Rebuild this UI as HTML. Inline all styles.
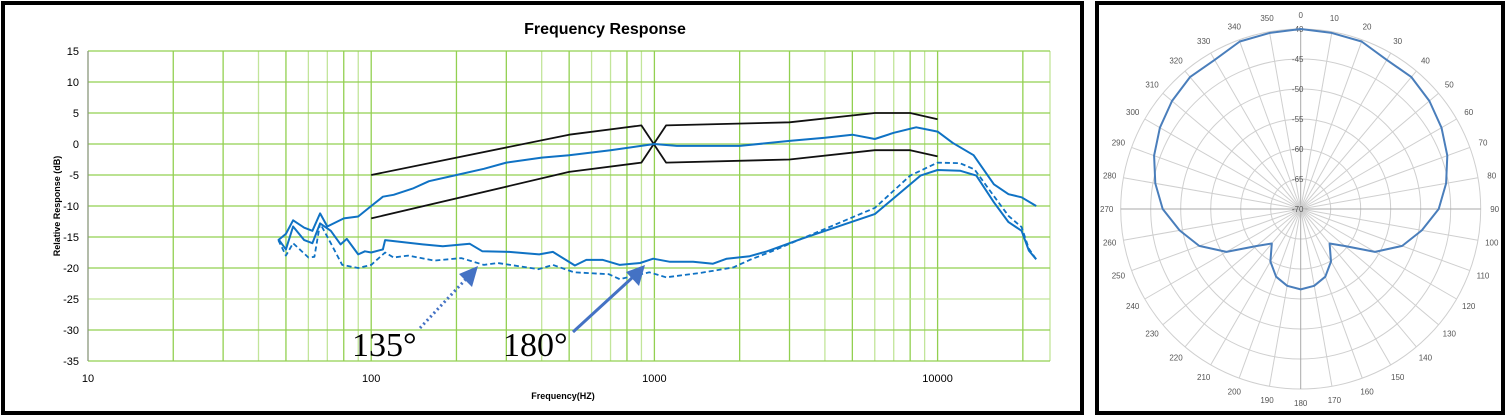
<!DOCTYPE html>
<html><head><meta charset="utf-8"><style>
html,body{margin:0;padding:0;background:#fff;}
svg{display:block;font-family:"Liberation Sans",sans-serif;}
</style></head><body>
<svg id="svg" width="1509" height="418" xmlns="http://www.w3.org/2000/svg">
<rect x="3" y="3" width="1079" height="410" fill="#fff" stroke="#000" stroke-width="4"/>
<rect x="1097" y="3" width="406" height="410" fill="#fff" stroke="#000" stroke-width="4"/>
<text x="605" y="34" text-anchor="middle" font-size="16" font-weight="bold">Frequency Response</text>
<g id="grid"></g>
<g id="ylabels"></g>
<g id="xlabels"></g>
<text transform="translate(60,206) rotate(-90)" text-anchor="middle" font-size="9" font-weight="bold">Relative  Response (dB)</text>
<text x="563" y="399" text-anchor="middle" font-size="9" font-weight="bold">Frequency(HZ)</text>
<g id="series"></g>
<g>
<line x1="420" y1="328" x2="466" y2="279" stroke="#4472c4" stroke-width="3" stroke-dasharray="2,3"/>
<polygon points="478,266 459,274 472,287" fill="#4472c4"/>
<text x="352" y="356" font-family="Liberation Serif,serif" font-size="34">135°</text>
</g>
<g>
<line x1="573" y1="332" x2="633" y2="277" stroke="#4472c4" stroke-width="3"/>
<polygon points="645,265 626,272 639,286" fill="#4472c4"/>
<text x="503" y="356" font-family="Liberation Serif,serif" font-size="34">180°</text>
</g>
<g id="polar"></g>
</svg>
<script>
// ---- Frequency response data ----
const yTicks=[15,10,5,0,-5,-10,-15,-20,-25,-30,-35];
const xTickLabels=[10,100,1000,10000];
const onAxisFreq=[47,50,53,58,62,66,70,80,90,100,110,120,140,160,200,250,300,400,500,700,1000,1200,2000,3000,4000,5000,6000,7000,8400,10000,11300,13400,15800,17800,19800,22300];
const onAxisDb=[-15.5,-14.5,-12.3,-13.5,-14,-11.2,-13.3,-12,-11.7,-10,-8.5,-8.2,-7.2,-6,-5,-4,-3,-2.2,-1.8,-1,0,-0.3,-0.3,0.5,1,1.5,0.8,1.8,2.7,2,0.2,-1.8,-6.5,-8.1,-8.6,-10];
const rearFreq=[47,50,53,58,62,66,72,78,82,90,95,100,110,112,152,179,223,247,307,392,438,524,575,658,755,890,990,1135,1370,1610,1800,2170,2500,3000,3300,6000,8700,10000,12000,13700,15800,17800,19800,21000,22300];
const rearDb=[-15.3,-17,-13.3,-15.5,-16,-12.8,-14,-16.2,-15.3,-17.8,-17.3,-17.5,-17,-15.5,-16.2,-16.5,-16.1,-17.3,-17.4,-17.8,-17.4,-19.6,-18.7,-18.7,-19.5,-19.2,-18.5,-19,-19,-19.3,-18.5,-18.1,-17.3,-16,-15.3,-11.3,-5.1,-4.2,-4.3,-5.1,-9.4,-12.6,-14,-17.2,-18.6];
const sideFreq=[47,50,53,60,63,66,72,79,90,100,112,120,135,167,208,250,280,390,438,520,690,755,960,1100,1450,1900,2170,2600,3300,6000,8000,10000,12000,13500,15800,17800,19800,21000,22300];
const sideDb=[-15.5,-18,-16,-18.3,-18.2,-12.8,-16,-19.5,-20,-19.5,-17.5,-18.3,-18,-18.8,-18.4,-19.5,-19.2,-20.2,-19.5,-20.7,-21,-21.8,-20.7,-21.5,-20.8,-19.9,-18.7,-17.3,-15.3,-10.3,-5.1,-3,-3.1,-4.1,-8.4,-11.6,-13.4,-16.9,-18.6];
const upperLimFreq=[100,500,900,1100,3000,6000,8000,10000];
const upperLimDb=[-5,1.5,3,-3,-2.5,-1,-1,-2];
const lowerLimFreq=[100,500,900,1100,3000,6000,8000,10000];
const lowerLimDb=[-12,-4.5,-3,3,3.5,5,5,4];
// ---- Polar data (dB every 10 degrees, 0..350) ----
const polarAngles=[0,10,20,30,40,50,60,70,80,90,100,110,120,130,140,150,160,170,180,190,200,210,220,230,240,250,260,270,280,290,300,310,320,330,340,350];
const polarDb=[-40,-40.2,-40.3,-41.3,-41.3,-42,-42.9,-44,-45.4,-47,-49.5,-52,-55.7,-60.4,-62.5,-59.9,-58,-57,-56.6,-57,-58,-59.9,-62.5,-60.4,-55.7,-52,-49.5,-47,-45.4,-44,-42.9,-42,-41.3,-41.3,-40.3,-40.2];
const polarRings=[-40,-45,-50,-55,-60,-65,-70];

const NS="http://www.w3.org/2000/svg";
const L=88,R=1050,T=51,B=361;
const xs=f=>L+(Math.log10(f)-1)*283.2;
const ys=v=>T+(15-v)*(B-T)/50;
function mk(tag,attrs,parent){const e=document.createElementNS(NS,tag);for(const k in attrs)e.setAttribute(k,attrs[k]);parent.appendChild(e);return e;}
const grid=document.getElementById('grid');
for(let d=10;d<=10000;d*=10){for(let m=1;m<=9;m++){const f=d*m;const x=xs(f);if(x>R)break;
 const ln=mk('line',{x1:x,y1:T,x2:x,y2:B,stroke:(m===1||m===2||m===3||m===5||m===8)?'#92d050':'#c2e59a','stroke-width':1.3},grid);
 
 }}
const rl=mk('line',{x1:R,y1:T,x2:R,y2:B,stroke:'#c2e59a','stroke-width':1.3},grid);


const yl=document.getElementById('ylabels');
yTicks.forEach(v=>{const y=ys(v);
 const ln=mk('line',{x1:L,y1:y,x2:R,y2:y,stroke:v===-25?'#c2e59a':'#92d050','stroke-width':1.3},grid);
 
 
 const t=mk('text',{x:79,y:y+4,'text-anchor':'end','font-size':11},yl);t.textContent=v;
 
 });
const ax=mk('line',{x1:L,y1:T,x2:L,y2:B,stroke:'#888','stroke-width':1},grid);


const xl=document.getElementById('xlabels');
xTickLabels.forEach(f=>{const t=mk('text',{x:xs(f),y:382,'text-anchor':'middle','font-size':11},xl);t.textContent=f;
 
 });
const ser=document.getElementById('series');
function line(fr,db,color,w,dash,name){const p=fr.map((f,i)=>xs(f).toFixed(1)+','+ys(db[i]).toFixed(1)).join(' ');
 const e=mk('polyline',{points:p,fill:'none',stroke:color,'stroke-width':w,'stroke-linejoin':'round'},ser);
 if(dash)e.setAttribute('stroke-dasharray',dash);
 
 }
line(upperLimFreq,upperLimDb,'#111',1.8,null,'tolerance-lower-line');
line(lowerLimFreq,lowerLimDb,'#111',1.8,null,'tolerance-upper-line');
line(onAxisFreq,onAxisDb,'#0f72c4',2,null,'series-0-degree');
line(rearFreq,rearDb,'#0f72c4',2,null,'series-180-degree');
line(sideFreq,sideDb,'#0f72c4',1.8,'5,3','series-135-degree');

// ---- Polar ----
const pg=document.getElementById('polar');
const cx=1300.7,cy=209,rmax=180;
const rs=v=>(v+70)*rmax/30;
polarRings.forEach(v=>{if(v===-70)return;
 const c=mk('circle',{cx:cx,cy:cy,r:rs(v),fill:'none',stroke:'#cfcfcf','stroke-width':1},pg);
 
 });
polarAngles.forEach(a=>{const rad=a*Math.PI/180;
 const sp=mk('line',{x1:cx,y1:cy,x2:cx+rmax*Math.sin(rad),y2:cy-rmax*Math.cos(rad),stroke:(a%90===0)?'#a8a8a8':'#cfcfcf','stroke-width':1},pg);
 
 
 const t=mk('text',{x:cx+194*Math.sin(rad),y:cy-194*Math.cos(rad)+3,'text-anchor':'middle','font-size':8,fill:'#555'},pg);t.textContent=a;
 
 });
polarRings.forEach(v=>{const t=mk('text',{x:cx-3,y:cy-rs(v)+3,'text-anchor':'middle','font-size':8,fill:'#555'},pg);t.textContent=v;
 
 });
const pts=polarAngles.map((a,i)=>{const rad=a*Math.PI/180,r=rs(polarDb[i]);return (cx+r*Math.sin(rad)).toFixed(1)+','+(cy-r*Math.cos(rad)).toFixed(1);}).join(' ');
const pp=mk('polygon',{points:pts,fill:'none',stroke:'#4a7ebb','stroke-width':2,'stroke-linejoin':'round'},pg);


</script>
</body></html>
